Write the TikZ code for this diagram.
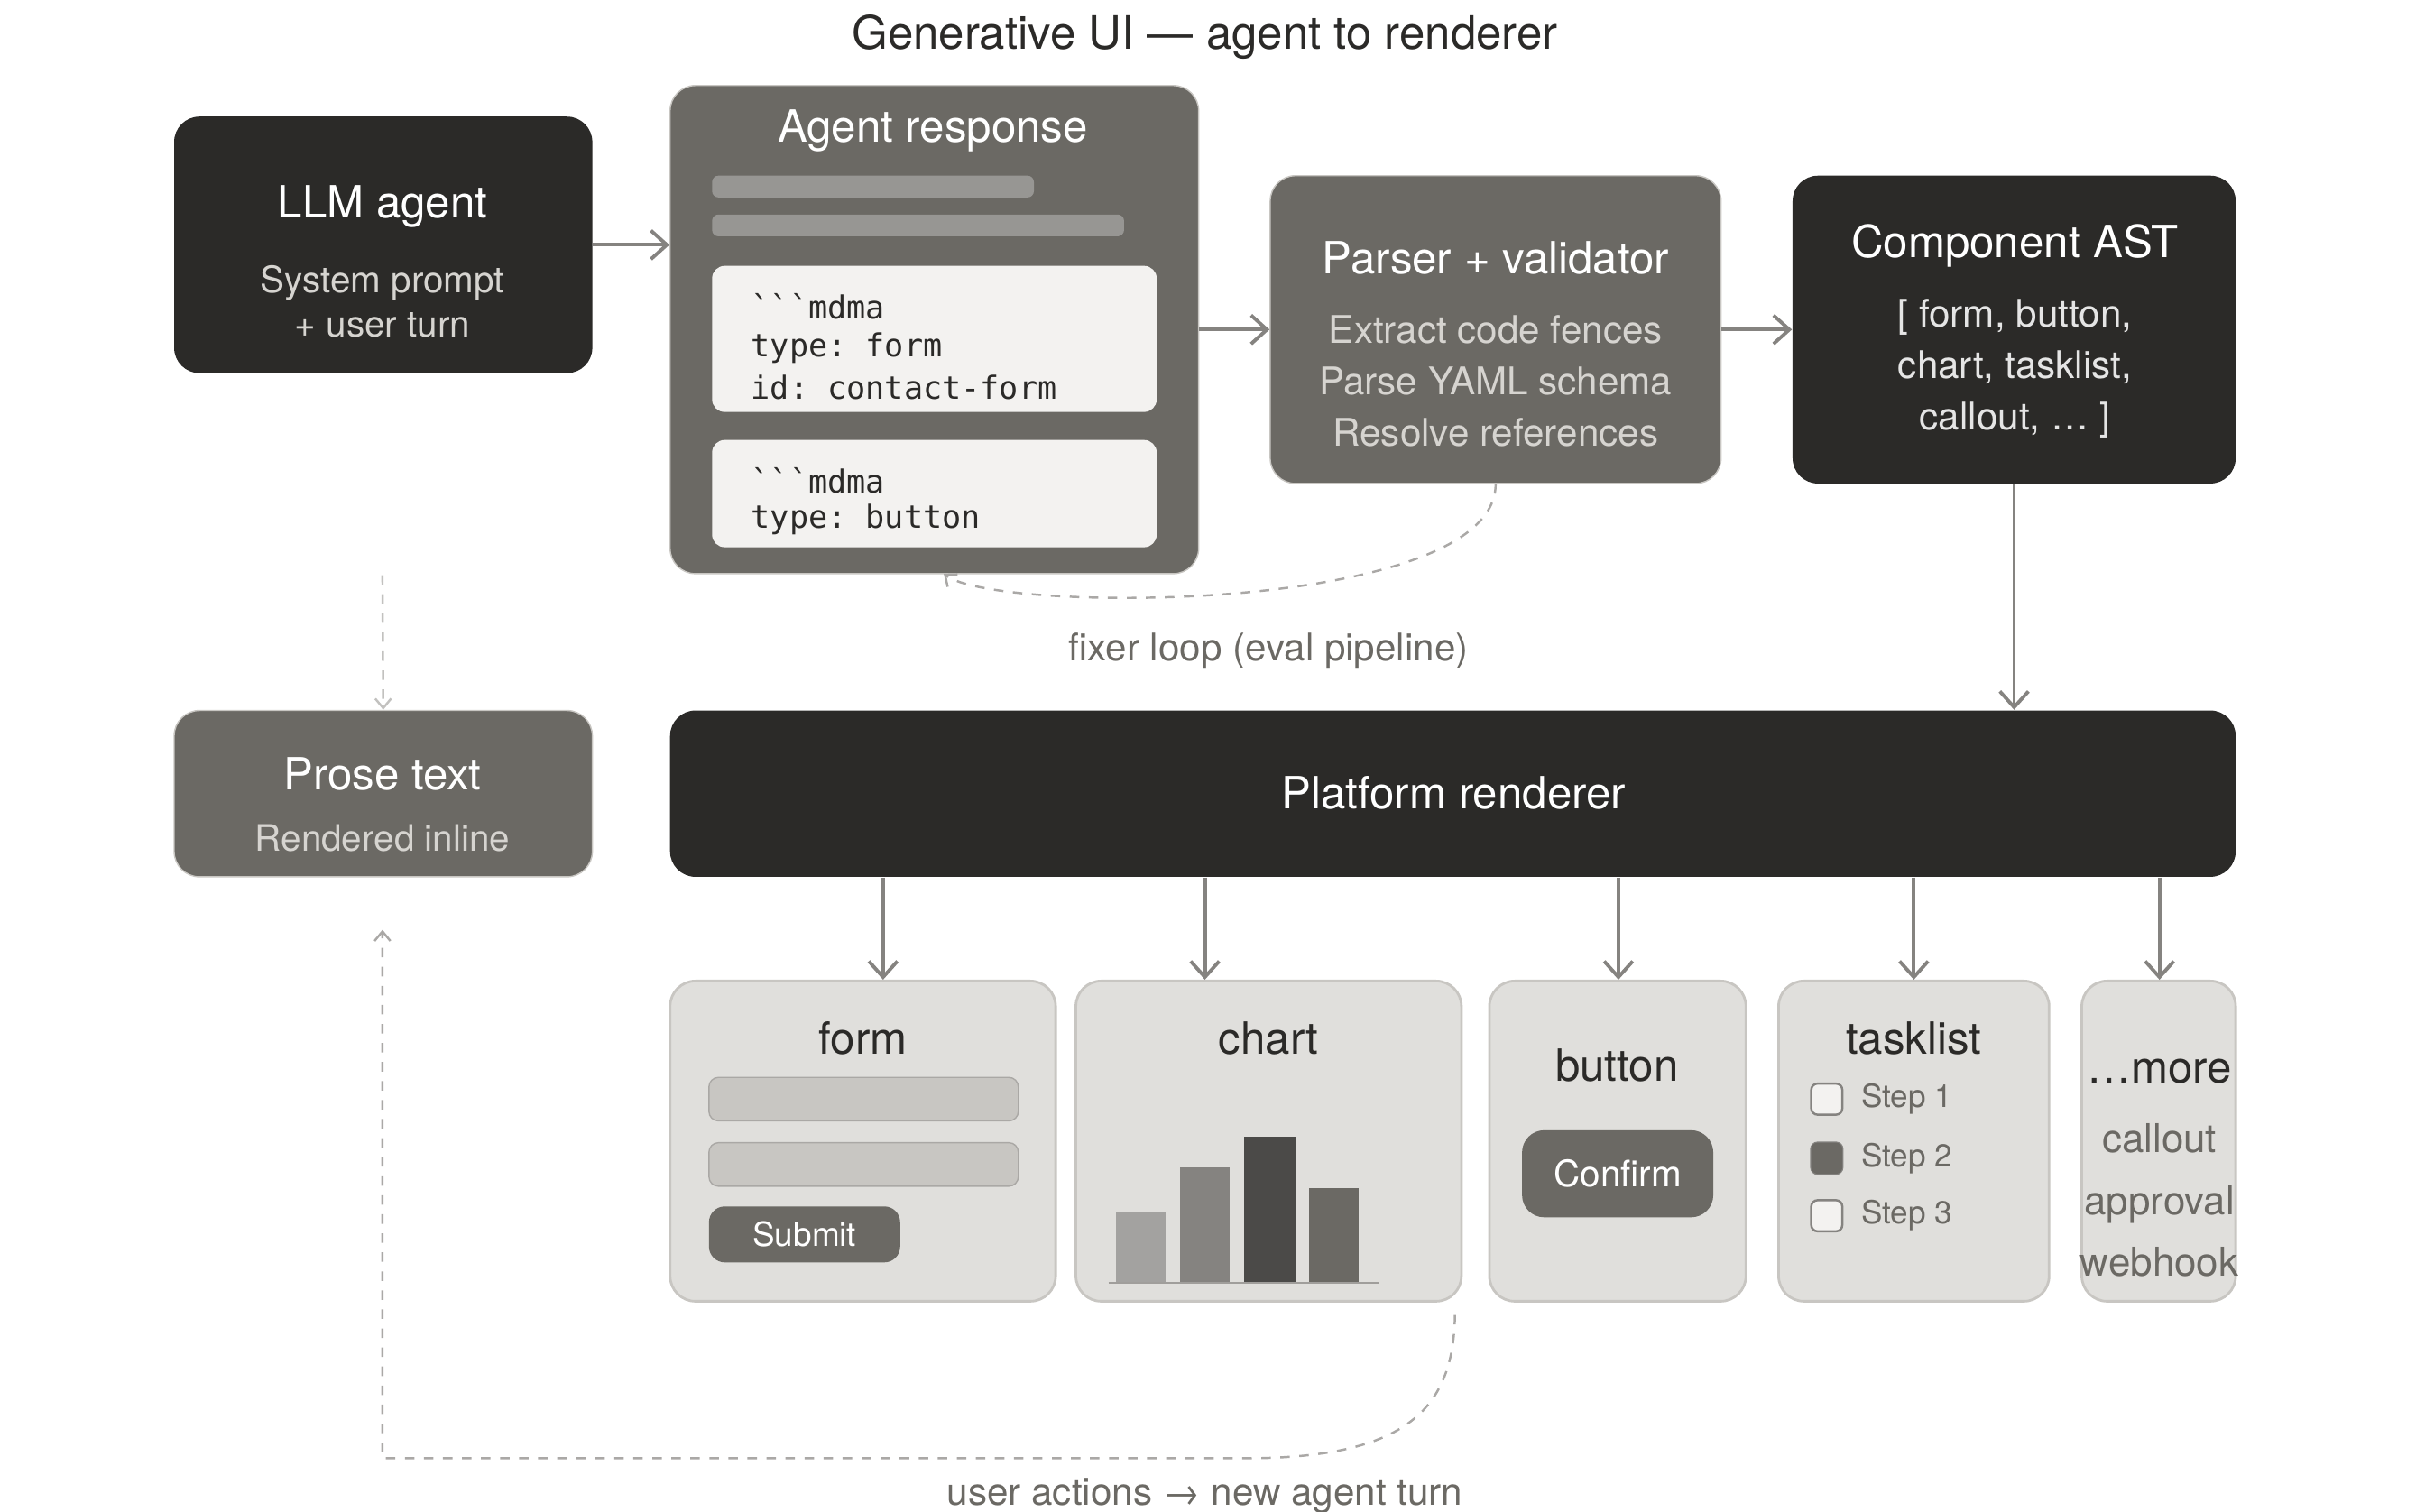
\documentclass[tikz,border=0pt]{standalone}
\usepackage{fontspec}
\setmainfont{TeX Gyre Heros}
\setmonofont{DejaVu Sans Mono}
\usetikzlibrary{fit,arrows.meta}

\definecolor{ink}{HTML}{2B2A28}
\definecolor{slate}{HTML}{6B6964}
\definecolor{card}{HTML}{E0DFDC}
\definecolor{cardline}{HTML}{C8C6C2}
\definecolor{paper}{HTML}{F3F2F0}
\definecolor{wire}{HTML}{858380}
\definecolor{soft}{HTML}{D6D4D0}

\tikzset{
	darkbox/.style={fill=ink, rounded corners=8pt, inner sep=0pt},
	midbox/.style={fill=slate, draw=cardline, rounded corners=8pt, inner sep=0pt},
	cardbox/.style={fill=card, draw=cardline, line width=0.8pt, rounded corners=8pt, inner sep=0pt},
	codebox/.style={fill=paper, rounded corners=4pt, inner sep=0pt},
	head/.style={font=\fontsize{14}{16}\selectfont, text=white},
	cardhead/.style={font=\fontsize{14}{16}\selectfont, text=ink},
	sub/.style={font=\fontsize{11.5}{14}\selectfont, text=soft, align=center},
	code/.style={font=\ttfamily\fontsize{10}{12}\selectfont, text=ink, anchor=west},
	arr/.style={-{Straight Barb[length=5pt,width=9pt]}, draw=wire, line width=1.1pt},
	loop/.style={dashed, draw=wire!70, line width=0.7pt},
	note/.style={font=\fontsize{12}{14}\selectfont, text=slate},
}

\begin{document}
\begin{tikzpicture}[x=0.01723cm, y=-0.01723cm]
	\useasboundingbox (0,0) rectangle (1554,972);

	\node[font=\fontsize{14.5}{17}\selectfont, text=ink] (title) at (775,24) {Generative UI — agent to renderer};

	% top row
	\node[darkbox, fit={(112,75)(381,240)}] (llm) {};
	\node[head] at (246,133) {LLM agent};
	\node[sub] at (246,194) {System prompt\\+ user turn};

	\node[midbox, fit={(431,55)(771,369)}] (resp) {};
	\node[head] at (600,84) {Agent response};
	\node[fill=wire!85!white, rounded corners=2pt, fit={(458,113)(665,127)}, inner sep=0pt] (bar1) {};
	\node[fill=wire!85!white, rounded corners=2pt, fit={(458,138)(723,152)}, inner sep=0pt] (bar2) {};
	\node[codebox, fit={(458,171)(744,265)}] (code1) {};
	\node[code] at (476,197) {```mdma};
	\node[code] at (476,224) {type: form};
	\node[code] at (476,249) {id: contact-form};
	\node[codebox, fit={(458,283)(744,352)}] (code2) {};
	\node[code] at (476,309) {```mdma};
	\node[code] at (476,334) {type: button};

	\node[midbox, fit={(817,113)(1107,311)}] (parser) {};
	\node[head] at (962,166) {Parser + validator};
	\node[sub, font=\fontsize{12}{16.2}\selectfont] at (962,245) {Extract code fences\\Parse YAML schema\\Resolve references};

	\node[darkbox, fit={(1153,113)(1438,311)}] (ast) {};
	\node[head] at (1296,158) {Component AST};
	\node[sub, text=white!90!black, font=\fontsize{12}{16.2}\selectfont] at (1296,237) {[ form, button,\\chart, tasklist,\\callout, … ]};

	\draw[arr] (llm.east) -- (resp.west |- llm.east);
	\draw[arr] (resp.east) -- (parser.west);
	\draw[arr] (parser.east) -- (ast.west);

	% fixer loop
	\draw[loop, -{Straight Barb[length=3pt,width=5pt]}] (parser.south) .. controls (962,395) and (640,395) .. (607,369);
	\node[note] (fixer) at (816,419) {fixer loop (eval pipeline)};

	% middle row
	\node[midbox, fit={(112,457)(381,564)}] (prose) {};
	\node[head] at (246,498) {Prose text};
	\node[sub] at (246,539) {Rendered inline};
	\coordinate (proseIn) at (246,370);
	\draw[loop, draw=wire!50, -{Straight Barb[length=3pt,width=5pt]}] (proseIn) -- (prose.north);

	\node[darkbox, fit={(431,457)(1438,564)}] (rend) {};
	\node[head] at (935,510) {Platform renderer};
	\draw[arr] (ast.south) -- (rend.north -| ast.south);

	% cards
	\node[cardbox, fit={(431,631)(679,837)}] (form) {};
	\node[cardbox, fit={(692,631)(940,837)}] (chart) {};
	\node[cardbox, fit={(958,631)(1123,837)}] (button) {};
	\node[cardbox, fit={(1144,631)(1318,837)}] (tasks) {};
	\node[cardbox, fit={(1339,631)(1438,837)}] (more) {};

	\foreach \x/\c in {568/form, 775/chart, 1041/button, 1231/tasks, 1389/more}
		\draw[arr] (rend.south -| \x,0) -- (\c.north -| \x,0);

	% form card
	\node[cardhead] at (555,668) {form};
	\node[fill=cardline, draw=cardline!85!black, rounded corners=3pt, inner sep=0pt, fit={(456,693)(655,721)}] (in1) {};
	\node[fill=cardline, draw=cardline!85!black, rounded corners=3pt, inner sep=0pt, fit={(456,735)(655,763)}] (in2) {};
	\node[fill=slate, rounded corners=5pt, inner sep=0pt, fit={(456,776)(579,812)}] (submit) {};
	\node[font=\fontsize{10.5}{12}\selectfont, text=white] at (submit) {Submit};

	% chart card
	\node[cardhead] at (816,668) {chart};
	\fill[wire!75!white] (718,780) rectangle (750,825);
	\fill[wire] (759,751) rectangle (791,825);
	\fill[ink!85!white] (800,731) rectangle (833,825);
	\fill[slate] (842,764) rectangle (874,825);
	\draw[cardline!80!black, line width=0.6pt] (713,825) -- (887,825);

	% button card
	\node[cardhead] at (1040,685) {button};
	\node[fill=slate, rounded corners=7pt, inner sep=0pt, fit={(979,727)(1102,783)}] (confirm) {};
	\node[font=\fontsize{11.5}{13}\selectfont, text=white] at (confirm) {Confirm};

	% tasklist card
	\node[cardhead] at (1231,668) {tasklist};
	\foreach \y/\s in {707/1, 745/2, 782/3} {
		\draw[wire, fill=paper, rounded corners=2pt, line width=0.7pt] (1165,\y-10) rectangle (1185,\y+10);
		\node[font=\fontsize{10}{12}\selectfont, text=slate, anchor=west] at (1190,\y) {Step \s};
	}
	\fill[slate, rounded corners=2pt] (1165,735) rectangle (1185,755);

	% more card
	\node[cardhead] at (1389,689) {…more};
	\node[font=\fontsize{12.5}{19.5}\selectfont, text=slate, align=center] at (1389,772) {callout\\approval\\webhook};

	% user loop
	\coordinate (loopCorner) at (246,938);
	\draw[loop, -{Straight Barb[length=3pt,width=5pt]}] (chart.south east) ++(-5,8) .. controls (935,910) and (900,938) .. (800,938) -- (loopCorner) -- (246,598);
	\node[note] (user) at (775,962) {user actions → new agent turn};
\end{tikzpicture}
\end{document}
